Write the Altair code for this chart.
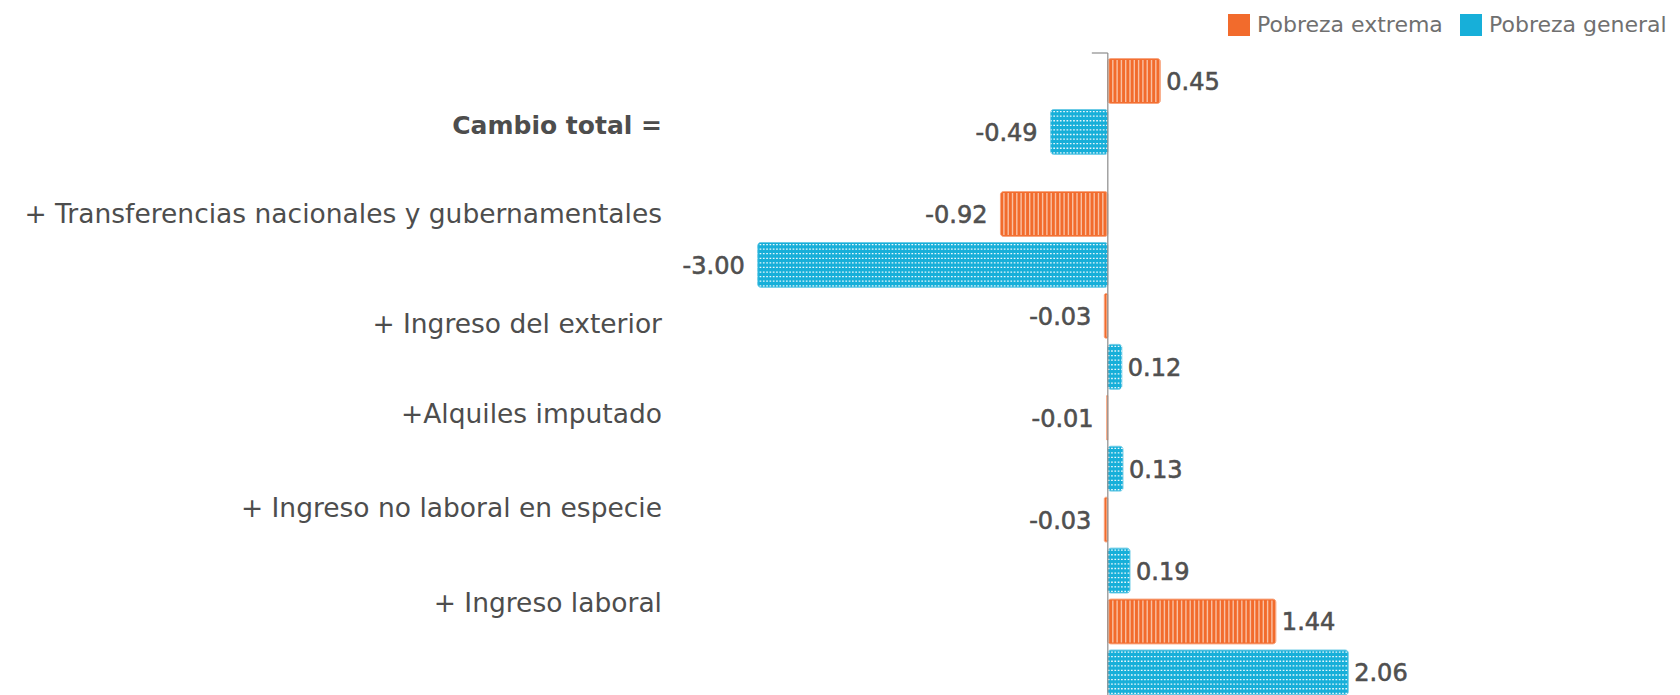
import altair as alt
import pandas as pd

# ---------------- data ----------------
categories = [
    "Cambio total =",
    "+ Transferencias nacionales y gubernamentales",
    "+ Ingreso del exterior",
    "+Alquiles imputado",
    "+ Ingreso no laboral en especie",
    "+ Ingreso laboral",
]
pobreza_extrema = [0.45, -0.92, -0.03, -0.01, -0.03, 1.44]
pobreza_general = [-0.49, -3.00, 0.12, 0.13, 0.19, 2.06]
series_names = ["Pobreza extrema", "Pobreza general"]

# ---------------- layout (row units of the band axis) ----------------
GAP_AFTER_FIRST = 0.61
label_rows = [0.88, 2.63, 4.79, 6.56, 8.40, 10.27]
dot_row_offsets = [-0.40, -0.31, -0.22, -0.13, -0.04, 0.05, 0.14, 0.23, 0.32, 0.41]
X_DOMAIN = [-3.7, 4.8]
Y_DOMAIN = [-0.55, 12.053]
TOP_TICK_LEN = 0.137

FONT = "DejaVu Sans"
ORANGE, ORANGE_EDGE, ORANGE_STRIPE = "#F26B2C", "#F8A47E", "#F9C0A3"
BLUE, BLUE_EDGE = "#17AFD9", "#6CCBE6"

rows = []
k = 0
for i, cat in enumerate(categories):
    for name, vals in zip(series_names, [pobreza_extrema, pobreza_general]):
        v = vals[i]
        rows.append({
            "category": cat,
            "series": name,
            "value": v,
            "zero": 0.0,
            "pos": k + (GAP_AFTER_FIRST if k >= 2 else 0.0),
            "label": f"{v:.2f}",
        })
        k += 1
df = pd.DataFrame(rows)

lab_df = pd.DataFrame({
    "category": categories,
    "row": label_rows,
    "xmin": [X_DOMAIN[0]] * len(categories),
    "bold": [True] + [False] * (len(categories) - 1),
})
axis_df = pd.DataFrame({
    "x": [0.0], "xt": [-TOP_TICK_LEN], "ytop": [Y_DOMAIN[0]], "ybot": [Y_DOMAIN[1]],
})

xs = alt.Scale(domain=X_DOMAIN, nice=False, zero=False)
ys = alt.Scale(domain=Y_DOMAIN, nice=False, zero=False, reverse=True)

base = alt.Chart(df)

bars = base.mark_bar(cornerRadius=3, strokeWidth=1).transform_calculate(
    y0="datum.pos - 0.44", y1="datum.pos + 0.44"
).encode(
    x=alt.X("value:Q", scale=xs, axis=None),
    x2=alt.X2("zero"),
    y=alt.Y("y0:Q", scale=ys, axis=None),
    y2=alt.Y2("y1"),
    fill=alt.Fill(
        "series:N",
        scale=alt.Scale(domain=series_names, range=[ORANGE, BLUE]),
        legend=alt.Legend(
            title=None, orient="none", legendX=552, legendY=-39,
            direction="horizontal", symbolType="square", symbolSize=484,
            symbolStrokeWidth=0, symbolOpacity=1, labelFontSize=22,
            labelColor="#707070", labelFont=FONT, columnPadding=17,
            labelOffset=7, labelLimit=0,
        ),
    ),
    stroke=alt.Stroke(
        "series:N",
        scale=alt.Scale(domain=series_names, range=[ORANGE_EDGE, BLUE_EDGE]),
        legend=None,
    ),
)

stripes = base.transform_filter(alt.datum.series == "Pobreza extrema").mark_rule(
    strokeWidth=42, strokeDash=[1.4, 2.9], color=ORANGE_STRIPE, strokeCap="butt"
).encode(
    x=alt.X("zero:Q", scale=xs, axis=None),
    x2=alt.X2("value"),
    y=alt.Y("pos:Q", scale=ys, axis=None),
)

dot_layers = []
for off in dot_row_offsets:
    dot_layers.append(
        base.transform_filter(alt.datum.series == "Pobreza general").transform_calculate(
            yy=f"datum.pos + ({off})"
        ).mark_rule(
            strokeWidth=1.3, strokeDash=[1.7, 1.6], color="white", opacity=0.9, strokeCap="butt"
        ).encode(
            x=alt.X("zero:Q", scale=xs, axis=None),
            x2=alt.X2("value"),
            y=alt.Y("yy:Q", scale=ys, axis=None),
        )
    )

val_style = dict(baseline="middle", dy=2, font=FONT, fontSize=24, color="#505050",
                 stroke="#505050", strokeWidth=0.6)
pos_labels = base.transform_filter("datum.value >= 0").mark_text(
    align="left", dx=6, **val_style
).encode(
    x=alt.X("value:Q", scale=xs, axis=None),
    y=alt.Y("pos:Q", scale=ys, axis=None),
    text="label:N",
)
neg_labels = base.transform_filter("datum.value < 0").mark_text(
    align="right", dx=-13, **val_style
).encode(
    x=alt.X("value:Q", scale=xs, axis=None),
    y=alt.Y("pos:Q", scale=ys, axis=None),
    text="label:N",
)

cat_style = dict(align="right", baseline="middle", dx=-14, font=FONT, color="#4d4d4d")
cat_normal = alt.Chart(lab_df).transform_filter("!datum.bold").mark_text(
    fontSize=26.5, **cat_style
).encode(
    x=alt.X("xmin:Q", scale=xs, axis=None),
    y=alt.Y("row:Q", scale=ys, axis=None),
    text="category:N",
)
cat_bold = alt.Chart(lab_df).transform_filter("datum.bold").mark_text(
    fontWeight="bold", fontSize=25, **cat_style
).encode(
    x=alt.X("xmin:Q", scale=xs, axis=None),
    y=alt.Y("row:Q", scale=ys, axis=None),
    text="category:N",
)

zero_rule = alt.Chart(axis_df).mark_rule(color="#8c8c8c", strokeWidth=1.2).encode(
    x=alt.X("x:Q", scale=xs, axis=None),
    y=alt.Y("ytop:Q", scale=ys, axis=None),
    y2=alt.Y2("ybot"),
)
top_tick = alt.Chart(axis_df).mark_rule(color="#8c8c8c", strokeWidth=1.2).encode(
    x=alt.X("xt:Q", scale=xs, axis=None),
    x2=alt.X2("x"),
    y=alt.Y("ytop:Q", scale=ys, axis=None),
)

chart = alt.layer(
    bars, stripes, *dot_layers, zero_rule, top_tick, pos_labels, neg_labels, cat_normal, cat_bold
).properties(
    width=992,
    height=642,
    autosize="none",
    padding={"left": 668, "top": 45, "right": 4, "bottom": 0},
    background="white",
).configure_view(stroke=None)

chart.save("out.html", embed_options={"renderer": "svg", "actions": False})
